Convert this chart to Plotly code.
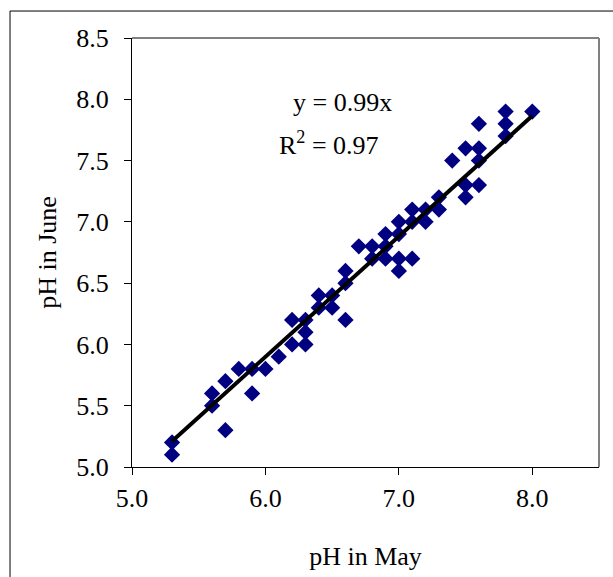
import numpy as np
import plotly.graph_objects as go

ph_may = [5.3, 5.3, 5.6, 5.6, 5.7, 5.7, 5.8, 5.9, 5.9, 6.0, 6.1, 6.2, 6.2, 6.3, 6.3, 6.3,
          6.4, 6.4, 6.5, 6.5, 6.6, 6.6, 6.6, 6.7, 6.8, 6.8, 6.9, 6.9, 6.9, 7.0, 7.0, 7.0,
          7.0, 7.1, 7.1, 7.1, 7.2, 7.2, 7.3, 7.3, 7.4, 7.5, 7.5, 7.5, 7.6, 7.6, 7.6, 7.6,
          7.8, 7.8, 7.8, 8.0]
ph_june = [5.2, 5.1, 5.6, 5.5, 5.7, 5.3, 5.8, 5.8, 5.6, 5.8, 5.9, 6.2, 6.0, 6.2, 6.1, 6.0,
           6.4, 6.3, 6.4, 6.3, 6.6, 6.5, 6.2, 6.8, 6.8, 6.7, 6.9, 6.8, 6.7, 7.0, 6.9, 6.7,
           6.6, 7.1, 7.0, 6.7, 7.1, 7.0, 7.2, 7.1, 7.5, 7.6, 7.3, 7.2, 7.8, 7.6, 7.5, 7.3,
           7.9, 7.8, 7.7, 7.9]
y_ticks = [5.0, 5.5, 6.0, 6.5, 7.0, 7.5, 8.0, 8.5]
x_ticks = [5.0, 6.0, 7.0, 8.0]
eq_text = "y = 0.99x"
r2_text = "R<sup>2</sup> = 0.97"

x = np.array(ph_may)
y = np.array(ph_june)
slope = float((x * y).sum() / (x * x).sum())
line_x = [x.min(), x.max()]
line_y = [slope * v for v in line_x]

FONT = "Liberation Serif, Times New Roman, serif"
FS = 26

fig = go.Figure()
fig.add_trace(go.Scatter(x=ph_may, y=ph_june, mode="markers",
                         marker=dict(symbol="diamond", size=12.5, color="#000080",
                                     line=dict(width=0)),
                         showlegend=False, cliponaxis=False))
fig.add_trace(go.Scatter(x=line_x, y=line_y, mode="lines",
                         line=dict(color="black", width=4),
                         showlegend=False))

fig.update_layout(
    width=613, height=577,
    margin=dict(l=132, r=14, t=38, b=110),
    paper_bgcolor="white", plot_bgcolor="white",
    font=dict(family=FONT, size=FS, color="black"),
    xaxis=dict(range=[5.0, 8.5], tickvals=x_ticks, ticktext=[f"{v:.1f}" for v in x_ticks],
               showgrid=False, zeroline=False, showline=True, linecolor="black",
               linewidth=1, ticks="outside", ticklen=7, tickcolor="black",
               ticklabelstandoff=1,
               title=dict(text="pH in May", font=dict(size=FS), standoff=34)),
    yaxis=dict(range=[5.0, 8.5], tickvals=y_ticks, ticktext=[f"{v:.1f}" for v in y_ticks],
               showgrid=False, zeroline=False, showline=True, linecolor="black",
               linewidth=1, ticks="outside", ticklen=7, tickcolor="black",
               ticklabelstandoff=10,
               title=dict(text="pH in June", font=dict(size=FS), standoff=12)),
    shapes=[
        dict(type="line", xref="paper", yref="paper", x0=0, x1=1, y0=1, y1=1,
             line=dict(color="#808080", width=2)),
        dict(type="line", xref="paper", yref="paper", x0=1, x1=1, y0=0, y1=1,
             line=dict(color="#808080", width=2)),
        dict(type="rect", xref="paper", yref="paper", x0=-0.2612, x1=1.2,
             y0=-0.4, y1=1.0629, line=dict(color="black", width=1)),
    ],
    annotations=[
        dict(x=6.195, y=7.97, xref="x", yref="y", text=eq_text, showarrow=False,
             xanchor="left", yanchor="middle", font=dict(size=FS)),
        dict(x=6.085, y=7.64, xref="x", yref="y", text=r2_text, showarrow=False,
             xanchor="left", yanchor="middle", font=dict(size=FS)),
    ],
)

fig.write_html("out.html", config={"displayModeBar": False},
               post_script="document.body.style.margin='0';")
